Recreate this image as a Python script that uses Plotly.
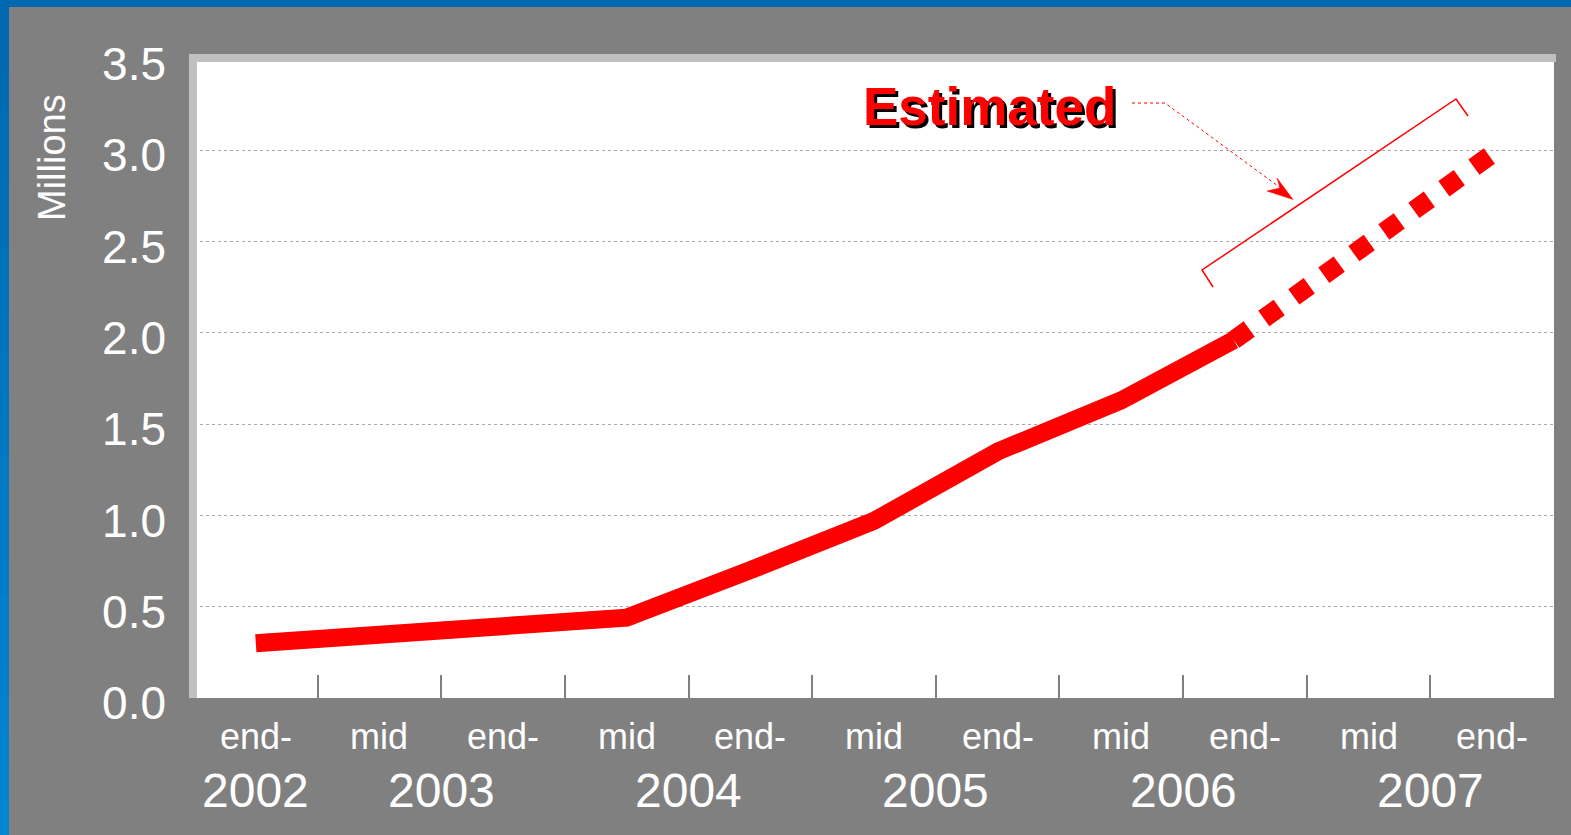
import plotly.graph_objects as go

# ---------------- data ----------------
categories = ["end-2002", "mid-2003", "end-2003", "mid-2004", "end-2004", "mid-2005",
              "end-2005", "mid-2006", "end-2006", "mid-2007", "end-2007"]
# actual series (x in category index units, half-years after end-2002)
actual_x = [0, 1, 2, 3, 4, 5, 6, 7, 7.91]
actual_y = [0.30, 0.345, 0.39, 0.44, 0.70, 0.97, 1.35, 1.63, 1.96]
# estimated series
est_x = [7.91, 10]
est_y = [1.96, 2.98]
y_ticks = [0.0, 0.5, 1.0, 1.5, 2.0, 2.5, 3.0, 3.5]

W, H = 1571, 835
ML, MR, MT, MB = 194, 17, 59, 137
PW, PH = W - ML - MR, H - MT - MB


def xp(px):
    return (px - ML) / PW


def yp(py):
    return (H - MB - py) / PH


RED = "#FF0000"
fig = go.Figure()
fig.add_trace(go.Scatter(x=actual_x, y=actual_y, mode="lines",
                         line=dict(color=RED, width=18), hoverinfo="skip", showlegend=False))
fig.add_trace(go.Scatter(x=est_x, y=est_y, mode="lines",
                         line=dict(color=RED, width=19, dash="19px,18px"),
                         hoverinfo="skip", showlegend=False))

shapes = []
# blue frame: top band and left gradient band
shapes.append(dict(type="rect", xref="paper", yref="paper", x0=xp(0), x1=xp(W), y0=yp(0), y1=yp(7),
                   fillcolor="#0068B0", line=dict(width=0), layer="above"))
nseg = 24
c0, c1 = (0, 104, 176), (0, 132, 212)
for k in range(nseg):
    t = k / (nseg - 1)
    col = "rgb(%d,%d,%d)" % tuple(round(a + (b - a) * t) for a, b in zip(c0, c1))
    ya = 7 + (H - 7) * k / nseg
    yb = 7 + (H - 7) * (k + 1) / nseg + 0.5
    shapes.append(dict(type="rect", xref="paper", yref="paper", x0=xp(0), x1=xp(9),
                       y0=yp(ya), y1=yp(yb), fillcolor=col, line=dict(width=0), layer="above"))
# plot area 3D border (top & left)
shapes.append(dict(type="rect", xref="paper", yref="paper", x0=xp(189), x1=xp(1556), y0=yp(54), y1=yp(62),
                   fillcolor="#C0C0C0", line=dict(width=0), layer="above"))
shapes.append(dict(type="rect", xref="paper", yref="paper", x0=xp(189), x1=xp(197), y0=yp(54), y1=yp(698),
                   fillcolor="#C0C0C0", line=dict(width=0), layer="above"))


def path(points, close=False):
    s = "M " + " L ".join("%.5f,%.5f" % (xp(a), yp(b)) for a, b in points)
    return s + (" Z" if close else "")


# dotted leader arrow from "Estimated"
shapes.append(dict(type="path", xref="paper", yref="paper",
                   path=path([(1132, 103), (1165, 103), (1282, 189)]),
                   line=dict(color=RED, width=1, dash="dot")))
shapes.append(dict(type="path", xref="paper", yref="paper",
                   path=path([(1277, 178), (1293, 199.5), (1267, 191), (1280, 188)], close=True),
                   fillcolor=RED, line=dict(color=RED, width=0.5)))
# bracket
shapes.append(dict(type="path", xref="paper", yref="paper",
                   path=path([(1213, 287), (1202, 270), (1456, 99), (1468, 116)]),
                   line=dict(color=RED, width=1.5)))

annotations = []
# category labels
for i, c in enumerate(categories):
    period = c.split("-")[0]
    label = "end-" if period == "end" else "mid"
    annotations.append(dict(x=i, xref="x", y=yp(736), yref="paper", text=label, showarrow=False,
                            font=dict(size=36, color="white", family="Liberation Sans, Arial"),
                            xanchor="center", yanchor="middle"))
# year labels centred under their categories
years = []
for i, c in enumerate(categories):
    yr = c.split("-")[1]
    if not years or years[-1][0] != yr:
        years.append([yr, []])
    years[-1][1].append(i)
for yr, idx in years:
    annotations.append(dict(x=sum(idx) / len(idx), xref="x", y=yp(790), yref="paper", text=yr,
                            showarrow=False,
                            font=dict(size=48, color="white", family="Liberation Sans, Arial"),
                            xanchor="center", yanchor="middle"))
# axis title
annotations.append(dict(x=xp(52), y=yp(158), xref="paper", yref="paper", text="Millions",
                        textangle=-90, showarrow=False,
                        font=dict(size=38, color="white", family="Liberation Sans, Arial"),
                        xanchor="center", yanchor="middle"))
# "Estimated" with drop shadow
annotations.append(dict(x=xp(989), y=yp(107), xref="paper", yref="paper",
                        text="<b>Estimated</b>", showarrow=False,
                        font=dict(size=53, color=RED, family="Liberation Sans, Arial",
                                  shadow="3px 3px 0px black"),
                        xanchor="center", yanchor="middle"))

fig.update_layout(
    width=W, height=H,
    margin=dict(l=ML, r=MR, t=MT, b=MB, pad=0),
    paper_bgcolor="#808080", plot_bgcolor="white",
    showlegend=False,
    shapes=shapes, annotations=annotations,
    xaxis=dict(range=[-0.5, len(categories) - 0.5], showgrid=False, zeroline=False, showline=False,
               tickmode="array", tickvals=[i + 0.5 for i in range(len(categories) - 1)],
               ticks="inside", ticklen=23, tickwidth=2, tickcolor="#808080",
               showticklabels=False, fixedrange=True),
    yaxis=dict(range=[0, 3.5], tickmode="array", tickvals=y_ticks,
               ticktext=["%.1f" % v for v in y_ticks],
               showgrid=True, gridcolor="#A8A8A8", griddash="dot", gridwidth=1,
               zeroline=False, showline=False, ticks="",
               tickfont=dict(size=46, color="white", family="Liberation Sans, Arial"),
               ticklabelstandoff=27, ticklabelshift=5, fixedrange=True),
)

fig.write_html("out.html")
